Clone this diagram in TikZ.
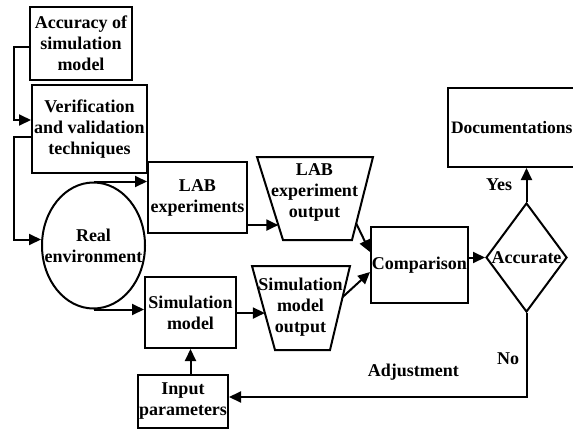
\documentclass[tikz,border=0pt]{standalone}
\usepackage{fontspec}
\setmainfont{Liberation Serif}
\usetikzlibrary{arrows.meta,shapes.geometric,calc}

\begin{document}
\begin{tikzpicture}[x=1pt,y=-1pt,line width=2pt,
        >={Triangle[length=12pt,width=11pt]},
        every node/.style={font=\bfseries\fontsize{18}{21}\selectfont,align=center},
        box/.style={draw,rectangle,inner sep=1pt}]
        \useasboundingbox (0,0) rectangle (573,431);

        \node[box,minimum width=102pt,minimum height=73pt] (acc) at (81,43.5) {Accuracy of\\simulation\\model};
        \node[box,minimum width=115pt,minimum height=88pt] (ver) at (89.5,129) {Verification\\and validation\\techniques};
        \node[draw,ellipse,inner sep=0pt,minimum width=103pt,minimum height=126pt,
              label={center:{Real\\environment}}] (env) at (93.5,245.5) {};
        \node[box,minimum width=99pt,minimum height=71pt] (lab) at (197.5,197.5) {LAB\\experiments};
        \node[box,minimum width=91pt,minimum height=71pt] (sim) at (190.5,312.5) {Simulation\\model};
        \node[box,minimum width=90pt,minimum height=53pt] (inp) at (183,401.5) {Input\\parameters};
        \node[box,minimum width=97pt,minimum height=76pt] (cmp) at (419.5,265) {Comparison};
        \node[draw,diamond,inner sep=-2pt,minimum width=81pt,minimum height=109pt,
              label=center:Accurate] (dec) at (526.5,257.5) {};
        \node[box,anchor=west,inner sep=3pt,minimum height=79pt,font=\bfseries\fontsize{17.5}{21}\selectfont] (doc) at (447,127.5) {Documentations};

        \coordinate (lo1) at (257,157);
        \coordinate (lo2) at (373,157);
        \coordinate (lo3) at (352,240);
        \coordinate (lo4) at (283,240);
        \draw (lo1) -- (lo2) -- (lo3) -- (lo4) -- cycle;
        \node (labout) at (314.5,192) {LAB\\experiment\\output};

        \coordinate (so1) at (252,266);
        \coordinate (so2) at (350,266);
        \coordinate (so3) at (330,350);
        \coordinate (so4) at (275,350);
        \draw (so1) -- (so2) -- (so3) -- (so4) -- cycle;
        \node (simout) at (300.5,307.5) {Simulation\\model\\output};

        \coordinate (labin) at ($(lo1)!0.82!(lo4)$);
        \coordinate (simin) at ($(so1)!0.56!(so4)$);

        \draw[->] ([yshift=-3.5pt]acc.west) -- ++(-15,0) |- ([yshift=9pt]ver.west);
        \draw[->] ([yshift=-8pt]ver.west) -- ++(-17,0) |- ([yshift=6pt]env.west);
        \draw[->] (env.north) -- (env.north -| lab.west);
        \draw[->] (env.south) -- (env.south -| sim.west);
        \draw[->] (lab.east |- labin) -- (labin);
        \draw[->] (sim.east |- simin) -- (simin);
        \draw[->] (sim.south |- inp.north) -- (sim.south);
        \draw[->] ($(lo2)!0.8!(lo3)$) -- ([yshift=13pt]cmp.west);
        \draw[->] ($(so2)!0.37!(so3)$) -- ([yshift=-7pt]cmp.west);
        \draw[->] (dec.west -| cmp.east) -- (dec.west);
        \draw[->] (dec.north) -- (dec.north |- doc.south) node[midway,left=10pt] {Yes};
        \draw[->] (dec.south) |- ([yshift=4.5pt]inp.east) node[pos=0.27,left=3pt] {No} node[pos=0.69,above=12pt] {Adjustment};
    \end{tikzpicture}
\end{document}
